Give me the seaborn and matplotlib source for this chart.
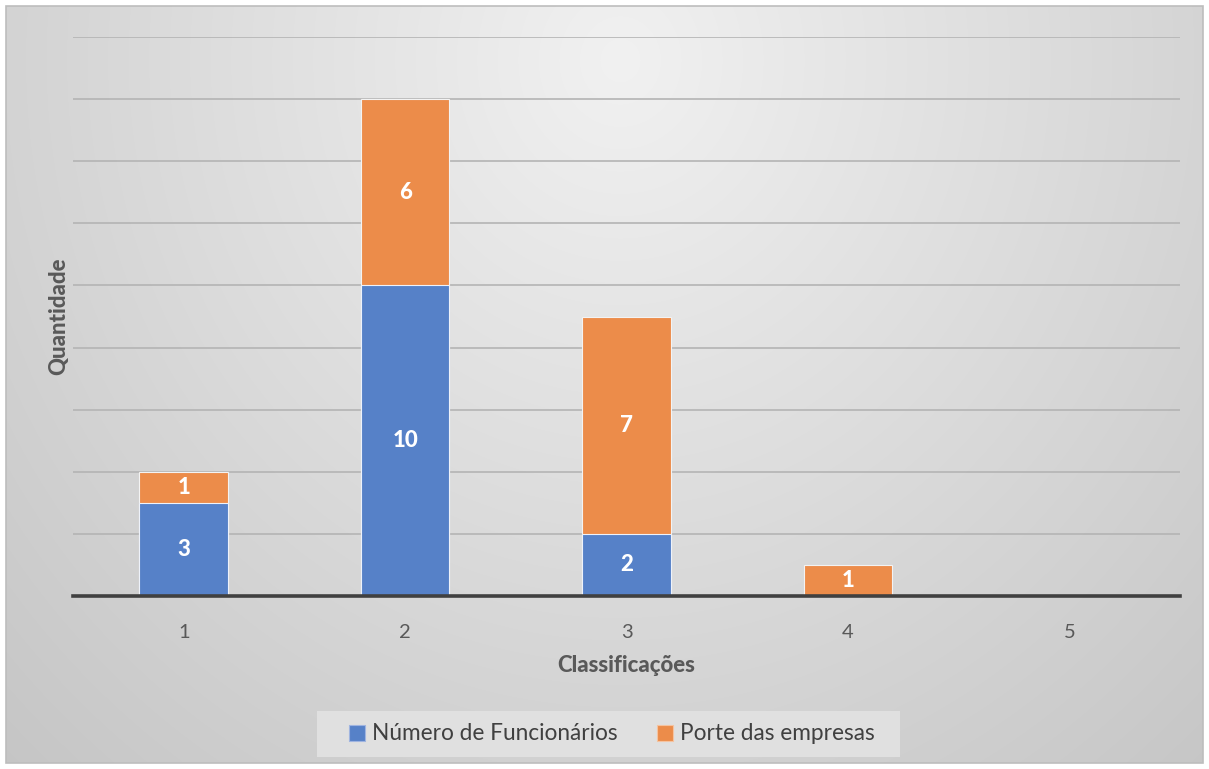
import numpy as np
import pandas as pd
import matplotlib
matplotlib.use("Agg")
import matplotlib.pyplot as plt
from matplotlib.patches import Patch, Rectangle
import seaborn as sns

# Chart data
categorias = ["1", "2", "3", "4", "5"]
numero_funcionarios = [3, 10, 2, 0, 0]
porte_empresas = [1, 6, 7, 1, 0]
serie_nomes = ["Número de Funcionários", "Porte das empresas"]

cor_azul = "#5681C8"
cor_laranja = "#EC8C4A"
cor_texto = "#595959"
peso_forte = 900

sns.set_theme(style="white")
plt.rcParams["font.family"] = ["Lato", "DejaVu Sans"]

W, H = 1209, 769
fig = plt.figure(figsize=(W / 100, H / 100), dpi=100)
fig.patch.set_facecolor("white")

# Soft radial background of the chart area
bg = fig.add_axes([0, 0, 1, 1], zorder=-10)
yy, xx = np.mgrid[0:H, 0:W]
r = np.sqrt(((xx - 620) / 680.0) ** 2 + ((yy - 60) / 740.0) ** 2)
val = 0.945 - 0.13 * r
img = np.dstack([val, val, val])
inset = 6
mask = (xx < inset) | (xx > W - inset - 1) | (yy < inset) | (yy > H - inset - 1)
img[mask] = 1.0
bg.imshow(img, extent=[0, W, H, 0], aspect="auto", interpolation="bilinear")
bg.add_patch(Rectangle((inset, inset), W - 2 * inset, H - 2 * inset,
                       fill=False, edgecolor="#bdbdbd", linewidth=1.2))
# light panel behind the legend
bg.add_patch(Rectangle((317, 711), 583, 46, facecolor="#e0e0e0",
                       edgecolor="none"))
bg.set_xlim(0, W)
bg.set_ylim(H, 0)
bg.axis("off")

ax = fig.add_axes([73 / W, 1 - 596 / H, (1180 - 73) / W, (596 - 37) / H])
ax.set_facecolor("none")

df = pd.DataFrame({
    "Classificação": categorias,
    "Funcionarios": numero_funcionarios,
    "Porte": porte_empresas,
})
df["Total"] = df["Funcionarios"] + df["Porte"]

# Stacked bars: full height in orange, blue segment drawn over the base
sns.barplot(data=df, x="Classificação", y="Total", color=cor_laranja,
            saturation=1, width=0.4, edgecolor="#f3f3f3", linewidth=0.8,
            ax=ax, zorder=3)
sns.barplot(data=df, x="Classificação", y="Funcionarios", color=cor_azul,
            saturation=1, width=0.4, edgecolor="#eef2fa", linewidth=0.8,
            ax=ax, zorder=4)

# Value labels centred in each segment
for i, (b, o) in enumerate(zip(numero_funcionarios, porte_empresas)):
    if b > 0:
        ax.text(i, b / 2, str(b), ha="center", va="center", color="white",
                fontsize=16, fontweight=peso_forte, zorder=6)
    if o > 0:
        ax.text(i, b + o / 2, str(o), ha="center", va="center", color="white",
                fontsize=16, fontweight=peso_forte, zorder=6)

ax.set_xlim(-0.5, 4.5)
ax.set_ylim(0, 18)
ax.set_yticks(np.arange(0, 19, 2))
ax.set_yticklabels([])
ax.tick_params(axis="y", length=0)
ax.yaxis.grid(True, color="#b4b4b4", linewidth=1.2, zorder=0)
ax.set_axisbelow(True)
ax.tick_params(axis="x", length=0, labelsize=14.5, labelcolor=cor_texto, pad=20)

for s in ["top", "right", "left"]:
    ax.spines[s].set_visible(False)
ax.spines["bottom"].set_color("#404040")
ax.spines["bottom"].set_linewidth(2.6)
ax.spines["bottom"].set_zorder(7)

ax.set_xlabel("Classificações", fontsize=16, fontweight=peso_forte,
              color=cor_texto, labelpad=10)
ax.set_ylabel("Quantidade", fontsize=16, fontweight=peso_forte,
              color=cor_texto, labelpad=-1)

handles = [Patch(facecolor=cor_azul, edgecolor="#9fb4e0", linewidth=0.8),
           Patch(facecolor=cor_laranja, edgecolor="#f5c3a0", linewidth=0.8)]
leg = fig.legend(handles, serie_nomes, loc="center", ncol=2,
                 bbox_to_anchor=(612 / W, 1 - 734 / H), frameon=False,
                 fontsize=16.3, handlelength=0.7, handleheight=0.7,
                 handletextpad=0.3, columnspacing=1.75, borderpad=0.3,
                 borderaxespad=0)
for t in leg.get_texts():
    t.set_color("#404040")

fig.savefig("out.png", dpi=100)
